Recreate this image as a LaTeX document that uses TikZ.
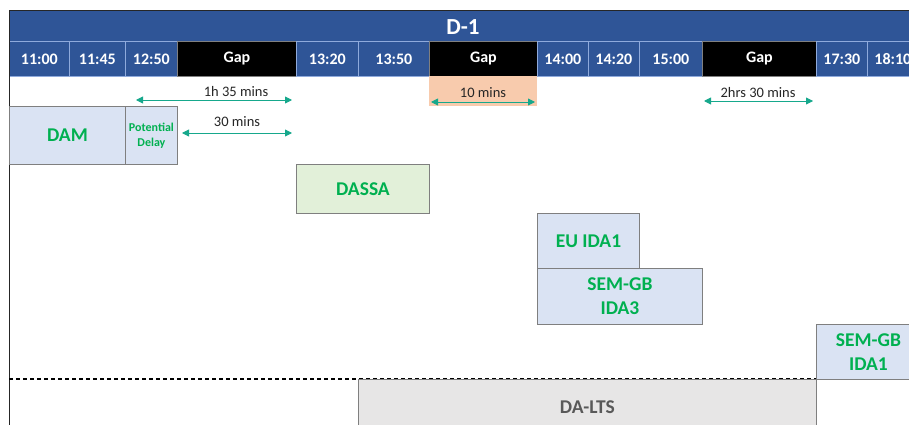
\documentclass[tikz,border=0pt]{standalone}
\usepackage{fontspec}
\setmainfont{Carlito}
\usetikzlibrary{arrows.meta}
\definecolor{hdrblue}{RGB}{47,85,151}
\definecolor{sepblue}{RGB}{143,170,220}
\definecolor{boxblue}{RGB}{218,227,243}
\definecolor{boxgreen}{RGB}{226,240,217}
\definecolor{labgreen}{RGB}{0,176,80}
\definecolor{gapfill}{RGB}{248,203,173}
\definecolor{ltsfill}{RGB}{231,230,230}
\definecolor{ltstext}{RGB}{89,89,89}
\definecolor{spancol}{RGB}{22,168,140}
\definecolor{edgegray}{RGB}{127,127,127}
\definecolor{labdark}{RGB}{38,38,38}
\begin{document}
\begin{tikzpicture}[x=1pt,y=-1pt,
  timecell/.style={draw=sepblue, line width=0.8pt, fill=hdrblue, text=white,
    font=\fontsize{16}{18}\selectfont\bfseries, inner sep=0pt,
    anchor=north west, minimum height=35pt},
  gapcell/.style={timecell, fill=black, draw=gray},
  slot/.style={draw=edgegray, line width=0.9pt, fill=boxblue, text=labgreen,
    font=\fontsize{19.5}{24}\selectfont\bfseries, inner sep=0pt,
    anchor=north west, align=center},
  span/.style={draw=spancol, line width=0.9pt,
    {Triangle[length=7pt,width=7pt]}-{Triangle[length=7pt,width=7pt]}},
  spanlabel/.style={text=labdark, font=\fontsize{14.5}{16}\selectfont, inner sep=0pt}]
\clip (0,0) rectangle (909,425);
\fill[white] (0,0) rectangle (909,425);

% day header
\node[fill=hdrblue, inner sep=0pt, anchor=north west, minimum width=909pt,
  minimum height=30pt] (day) at (9,11) {};
\node[text=white, font=\fontsize{23}{26}\selectfont\bfseries] (daylabel) at (463,27) {D-1};

% time row
\node[timecell, minimum width=60pt]  (t1100) at (9,41)   {11:00};
\node[timecell, minimum width=56pt]  (t1145) at (69,41)  {11:45};
\node[timecell, minimum width=52pt]  (t1250) at (125,41) {12:50};
\node[gapcell,  minimum width=119pt] (gap1)  at (177,41) {Gap};
\node[timecell, minimum width=62pt]  (t1320) at (296,41) {13:20};
\node[timecell, minimum width=71pt]  (t1350) at (358,41) {13:50};
\node[gapcell,  minimum width=108pt] (gap2)  at (429,41) {Gap};
\node[timecell, minimum width=51pt]  (t1400) at (537,41) {14:00};
\node[timecell, minimum width=51pt]  (t1420) at (588,41) {14:20};
\node[timecell, minimum width=63pt]  (t1500) at (639,41) {15:00};
\node[gapcell,  minimum width=114pt] (gap3)  at (702,41) {Gap};
\node[timecell, minimum width=51pt]  (t1730) at (816,41) {17:30};
\node[timecell, minimum width=51pt]  (t1810) at (867,41) {18:10};

% frame lines
\draw[line width=1pt, black!85] (9,11) -- (909,11);
\draw[line width=1pt, black!85] (9,11) -- (9,425);

% highlighted short gap
\node[fill=gapfill, inner sep=0pt, anchor=north west, minimum width=108pt,
  minimum height=30pt] (gapshade) at (429,76) {};

% gap spans
\coordinate (s1a) at (136,100); \coordinate (s1b) at (292,100);
\coordinate (s2a) at (182,133); \coordinate (s2b) at (292,133);
\coordinate (s3a) at (431,102); \coordinate (s3b) at (535,102);
\coordinate (s4a) at (704,101); \coordinate (s4b) at (813,101);
\draw[span] (s1a) -- (s1b);
\draw[span] (s2a) -- (s2b);
\draw[span] (s3a) -- (s3b);
\draw[span] (s4a) -- (s4b);
\node[spanlabel] (l1) at (236,92)  {1h 35 mins};
\node[spanlabel] (l2) at (237,122) {30 mins};
\node[spanlabel] (l3) at (483,93)  {10 mins};
\node[spanlabel] (l4) at (758,93)  {2hrs 30 mins};

% lower boundary of the session area
\draw[line width=1.1pt, dash pattern=on 4pt off 3pt] (9,379) -- (909,379);

% sessions
\node[slot, minimum width=116pt, minimum height=58pt] (dam) at (9,106) {DAM};
\node[slot, minimum width=52pt, minimum height=58pt,
  font=\fontsize{12}{15}\selectfont\bfseries] (delay) at (125,106) {Potential\\Delay};
\node[slot, fill=boxgreen, minimum width=133pt, minimum height=49pt] (dassa) at (296,164) {DASSA};
\node[slot, minimum width=102pt, minimum height=55pt] (euida1) at (537,213) {EU IDA1};
\node[slot, minimum width=165pt, minimum height=56pt] (semida3) at (537,268) {SEM-GB\\IDA3};
\node[slot, minimum width=104pt, minimum height=55pt] (semida1) at (816,324) {SEM-GB\\IDA1};
\node[slot, fill=ltsfill, text=ltstext, minimum width=458pt, minimum height=56pt] (dalts) at (358,379) {DA-LTS};
\end{tikzpicture}
\end{document}
